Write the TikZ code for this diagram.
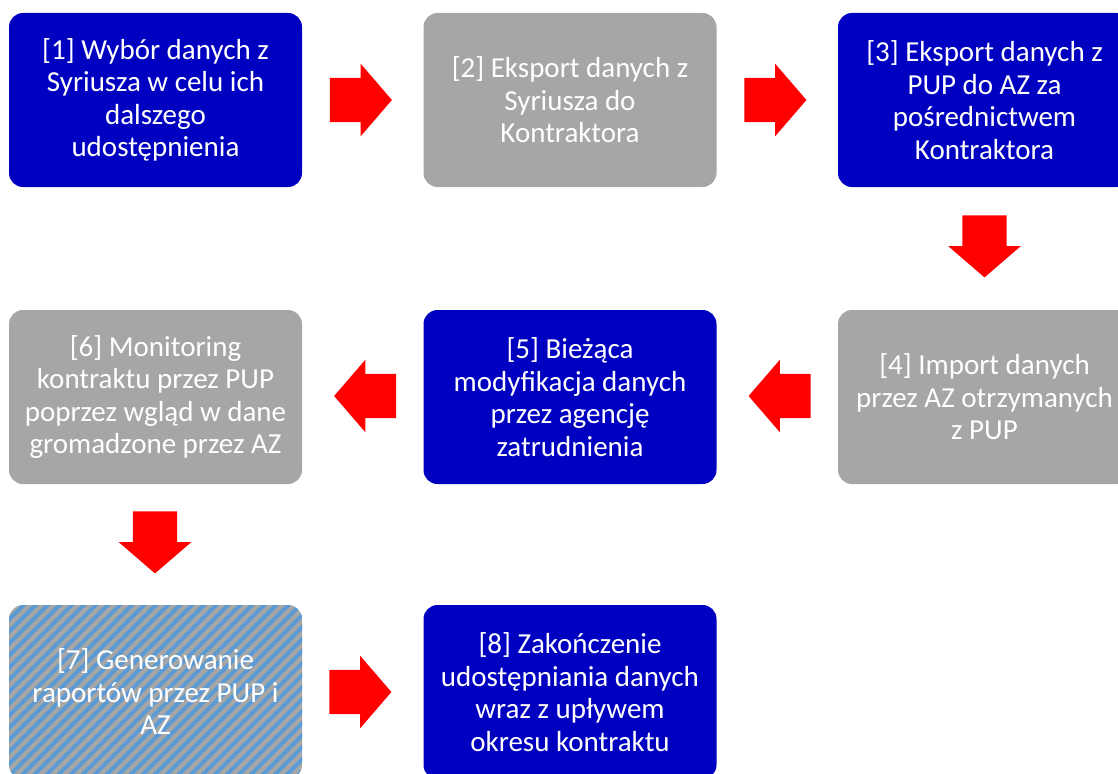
\documentclass[tikz,border=0pt]{standalone}
\usepackage{fontspec}
\setmainfont{Carlito}
\usepackage{tikz}
\usetikzlibrary{shapes.arrows}
\usetikzlibrary{patterns.meta}
\usetikzlibrary{calc}
\definecolor{boxblue}{HTML}{0000C0}
\definecolor{boxgray}{HTML}{A6A6A6}
\definecolor{hatchblue}{HTML}{5B9BD5}
\definecolor{arrowred}{HTML}{FF0000}

\begin{document}
\begin{tikzpicture}[x=1pt,y=-1pt,
    stepbox/.style={rounded corners=14pt,minimum width=293pt,minimum height=174pt,
        inner sep=0pt,align=center,text=white,font=\fontsize{29}{32.5}\selectfont},
    bluebox/.style={stepbox,fill=boxblue},
    graybox/.style={stepbox,fill=boxgray},
    hatchbox/.style={stepbox,fill=boxgray,
        postaction={pattern={Lines[angle=45,distance=8.5pt,line width=4pt]},pattern color=hatchblue}},
    blockarrow/.style={single arrow,fill=arrowred,inner xsep=0pt,inner ysep=22pt,anchor=tail,
        minimum height=62pt,single arrow head extend=14pt,single arrow tip angle=98.5}]
    \useasboundingbox (0,0) rectangle (1118,773);
    % Row 1
    \node[bluebox] (b1) at (155.5,100) {[1] Wybór danych z\\Syriusza w celu ich\\dalszego\\udostępnienia};
    \node[graybox] (b2) at (570,100) {[2] Eksport danych z\\Syriusza do\\Kontraktora};
    \node[bluebox] (b3) at (984.5,100) {[3] Eksport danych z\\PUP do AZ za\\pośrednictwem\\Kontraktora};
    % Row 2
    \node[graybox] (b4) at (984.5,397) {[4] Import danych\\przez AZ otrzymanych\\z PUP};
    \node[bluebox] (b5) at (570,397) {[5] Bieżąca\\modyfikacja danych\\przez agencję\\zatrudnienia};
    \node[graybox] (b6) at (155.5,397) {[6] Monitoring\\kontraktu przez PUP\\poprzez wgląd w dane\\gromadzone przez AZ};
    % Row 3
    \node[hatchbox] (b7) at (155.5,692) {[7] Generowanie\\raportów przez PUP i\\AZ};
    \node[bluebox] (b8) at (570,692) {[8] Zakończenie\\udostępniania danych\\wraz z upływem\\okresu kontraktu};
    % Arrows
    \node[blockarrow] (a12) at ($(b1.east)+(27.5,0)$) {};
    \node[blockarrow] (a23) at ($(b2.east)+(27.5,0)$) {};
    \node[blockarrow,rotate=-90] (a34) at ($(b3.south)+(0,28)$) {};
    \node[blockarrow,rotate=180] (a45) at ($(b4.west)+(-27,-1)$) {};
    \node[blockarrow,rotate=180] (a56) at ($(b5.west)+(-27,-1)$) {};
    \node[blockarrow,rotate=-90] (a67) at ($(b6.south)+(-0.5,27)$) {};
    \node[blockarrow] (a78) at ($(b7.east)+(27,0)$) {};
\end{tikzpicture}
\end{document}
